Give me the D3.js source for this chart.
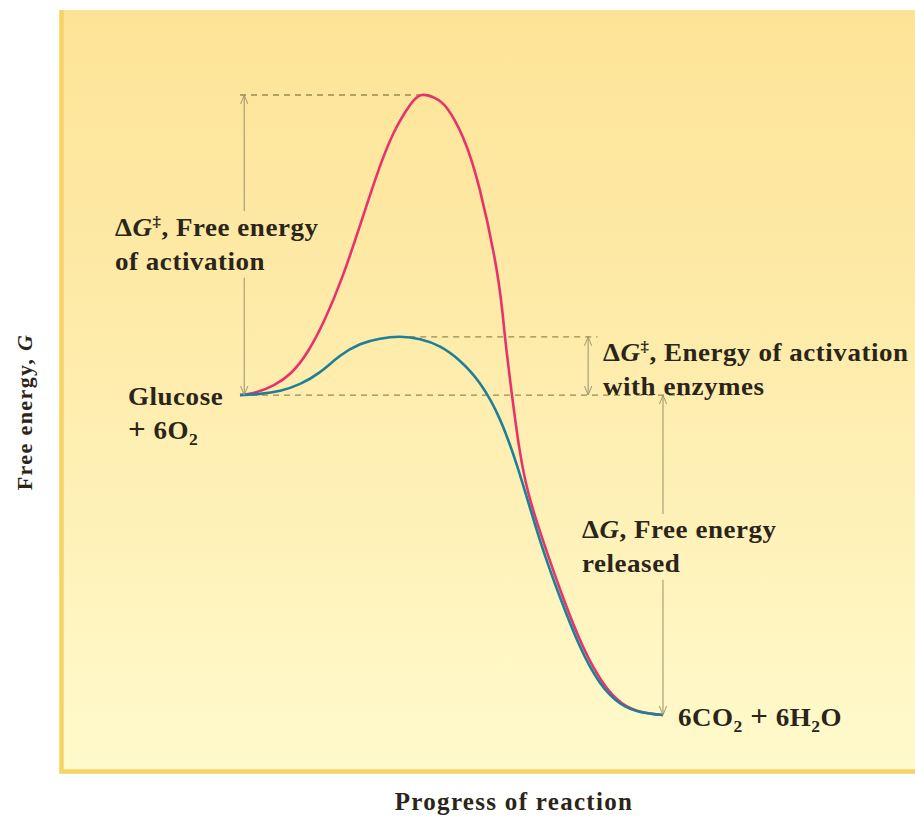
<!DOCTYPE html>
<html>
  <head>
    <title>Free energy of reaction</title>
    <script src="https://cdn.jsdelivr.net/npm/d3@7"></script>
    <style>
      body { margin: 0; background: #fff; }
      text { font-family: "Liberation Serif", "Times New Roman", serif; font-weight: bold; fill: #2b2418; }
    </style>
  </head>
  <body>
    <svg width="915" height="818" id="mainsvg"></svg>
    <script>

    // uncatalyzed path (red) - progress %, free energy (arbitrary units)
    const progressRed = [0, 4.0, 8.0, 12.1, 16.1, 20.1, 24.1, 28.1, 32.2, 36.2, 40.2, 43.0, 46.1, 48.9, 52.7, 56.7, 60.8, 62.6, 64.3, 66.0, 68.1, 71.6, 76.4, 81.1, 85.8, 90.3, 95.0, 100];
    const energyRed   = [51.6, 52.1, 53.2, 55.2, 58.7, 63.9, 70.5, 78.4, 86.8, 93.7, 98.4, 100, 99.5, 97.9, 93.2, 84.7, 71.3, 61.3, 51.6, 43.2, 36.0, 28.2, 18.9, 11.0, 5.2, 1.9, 0.5, 0];

    // enzyme-catalyzed path (blue)
    const progressBlue = [0, 4.7, 9.5, 14.2, 18.9, 23.6, 28.4, 33.1, 37.8, 42.6, 47.3, 52.0, 56.7, 61.5, 66.2, 70.9, 75.7, 80.4, 85.1, 89.8, 94.6, 100];
    const energyBlue   = [51.6, 51.8, 52.3, 53.4, 55.3, 57.9, 59.8, 60.7, 61.0, 60.6, 59.4, 57.1, 53.5, 47.6, 38.7, 28.2, 18.9, 11.0, 5.2, 1.9, 0.5, 0];

    const reactantLevel = 51.6;
    const productLevel = 0;
    const peakRed = 100;
    const peakBlue = 61.0;

    let svg = d3.select('svg');
    const width = +svg.attr('width');
    const height = +svg.attr('height');

    const x = d3.scaleLinear().domain([0, 100]).range([240, 663]);
    const y = d3.scaleLinear().domain([0, 100]).range([715, 95]);

    const defs = svg.append('defs');
    const grad = defs.append('linearGradient').attr('id', 'bg')
        .attr('x1', 0).attr('y1', 0).attr('x2', 0).attr('y2', 1);
    grad.append('stop').attr('offset', '0%').attr('stop-color', '#fde396');
    grad.append('stop').attr('offset', '50%').attr('stop-color', '#feedae');
    grad.append('stop').attr('offset', '100%').attr('stop-color', '#fffacc');

    defs.append('marker').attr('id', 'head')
        .attr('viewBox', '0 0 10 10').attr('refX', 10).attr('refY', 5)
        .attr('markerWidth', 9).attr('markerHeight', 9)
        .attr('markerUnits', 'userSpaceOnUse')
        .attr('orient', 'auto-start-reverse')
      .append('path').attr('d', 'M0,1 L10,5 L0,9')
        .attr('fill', 'none').attr('stroke', '#9f9670').attr('stroke-width', 1.1);

    // panel
    svg.append('rect').attr('x', 60).attr('y', 10).attr('width', width - 58).attr('height', 763)
        .attr('fill', 'url(#bg)');
    svg.append('path').attr('d', `M61.5,10 V771.5 H${width}`)
        .attr('fill', 'none').attr('stroke', '#f7d266').attr('stroke-width', 4.5);

    // dashed guides
    const dash = svg.append('g').attr('stroke', '#988a50').attr('stroke-width', 1.3)
        .attr('stroke-dasharray', '6,5').attr('fill', 'none');
    dash.append('line').attr('x1', x(0)).attr('x2', x(43)).attr('y1', y(peakRed)).attr('y2', y(peakRed));
    dash.append('line').attr('x1', x(40)).attr('x2', x(84.5)).attr('y1', y(peakBlue)).attr('y2', y(peakBlue));
    dash.append('line').attr('x1', x(0)).attr('x2', x(105)).attr('y1', y(reactantLevel)).attr('y2', y(reactantLevel));

    // curves
    const line = d3.line().x(d => x(d[0])).y(d => y(d[1])).curve(d3.curveNatural);
    svg.append('path').datum(d3.zip(progressRed, energyRed))
        .attr('d', line).attr('fill', 'none').attr('stroke', '#e6336b').attr('stroke-width', 2.6);
    svg.append('path').datum(d3.zip(progressBlue, energyBlue))
        .attr('d', line).attr('fill', 'none').attr('stroke', '#1f7f99').attr('stroke-width', 2.6);

    // rich text helper: wide serif look via slight horizontal stretch
    function richText(px, py, lines, size) {
      const g = svg.append('g').attr('transform', `translate(${px},0) scale(1.08,1)`);
      lines.forEach((parts, i) => {
        const t = g.append('text').attr('x', 0).attr('y', py + i * size * 1.36)
            .attr('font-size', size).attr('letter-spacing', size * 0.02);
        let shift = 0;
        parts.forEach(p => {
          const s = t.append('tspan').text(p.t);
          let target = 0;
          if (p.sup) { target = -size * 0.38; s.attr('font-size', size * 0.62); }
          if (p.sub) { target = size * 0.25; s.attr('font-size', size * 0.65); }
          if (p.big) s.attr('font-size', size * 1.15);
          if (p.it) s.attr('font-style', 'italic');
          if (target !== shift) { s.attr('dy', target - shift); shift = target; }
        });
      });
      return g;
    }

    const lab1 = richText(115, 236, [
      [{t: 'Δ'}, {t: 'G', it: true}, {t: '‡', sup: true}, {t: ', Free energy'}],
      [{t: 'of activation'}]
    ], 25);
    richText(128, 405, [
      [{t: 'Glucose'}],
      [{t: '+', big: true}, {t: ' 6O'}, {t: '2', sub: true}]
    ], 25);
    richText(603, 361, [
      [{t: 'Δ'}, {t: 'G', it: true}, {t: '‡', sup: true}, {t: ', Energy of activation'}],
      [{t: 'with enzymes'}]
    ], 25);
    const lab3 = richText(582, 538, [
      [{t: 'Δ'}, {t: 'G', it: true}, {t: ', Free energy'}],
      [{t: 'released'}]
    ], 25);
    richText(678, 726, [
      [{t: '6CO'}, {t: '2', sub: true}, {t: ' '}, {t: '+', big: true}, {t: ' 6H'}, {t: '2', sub: true}, {t: 'O'}]
    ], 25);

    // vertical arrows, broken around labels
    const arr = svg.append('g').attr('stroke', '#a29a72').attr('stroke-width', 1.1).attr('fill', 'none');
    function brokenArrow(xp, yTop, yBot, label) {
      const bb = label.node().getBoundingClientRect();
      arr.append('line').attr('x1', xp).attr('x2', xp).attr('y1', yTop).attr('y2', bb.top - 2)
          .attr('marker-start', 'url(#head)');
      arr.append('line').attr('x1', xp).attr('x2', xp).attr('y1', bb.bottom + 2).attr('y2', yBot)
          .attr('marker-end', 'url(#head)');
    }
    brokenArrow(x(1), y(peakRed), y(reactantLevel), lab1);
    brokenArrow(x(100), y(reactantLevel), y(productLevel), lab3);
    arr.append('line').attr('x1', x(82.3)).attr('x2', x(82.3))
        .attr('y1', y(peakBlue)).attr('y2', y(reactantLevel))
        .attr('marker-start', 'url(#head)').attr('marker-end', 'url(#head)');

    // axis titles
    svg.append('text').attr('transform', 'translate(32,412) rotate(-90)')
        .attr('text-anchor', 'middle').attr('font-size', 22).attr('letter-spacing', 1.4)
        .text('Free energy, ')
      .append('tspan').attr('font-style', 'italic').text('G');
    svg.append('text').attr('x', 514).attr('y', 810).attr('text-anchor', 'middle')
        .attr('font-size', 25).attr('letter-spacing', 1.3)
        .text('Progress of reaction');

    </script>
  </body>
</html>
